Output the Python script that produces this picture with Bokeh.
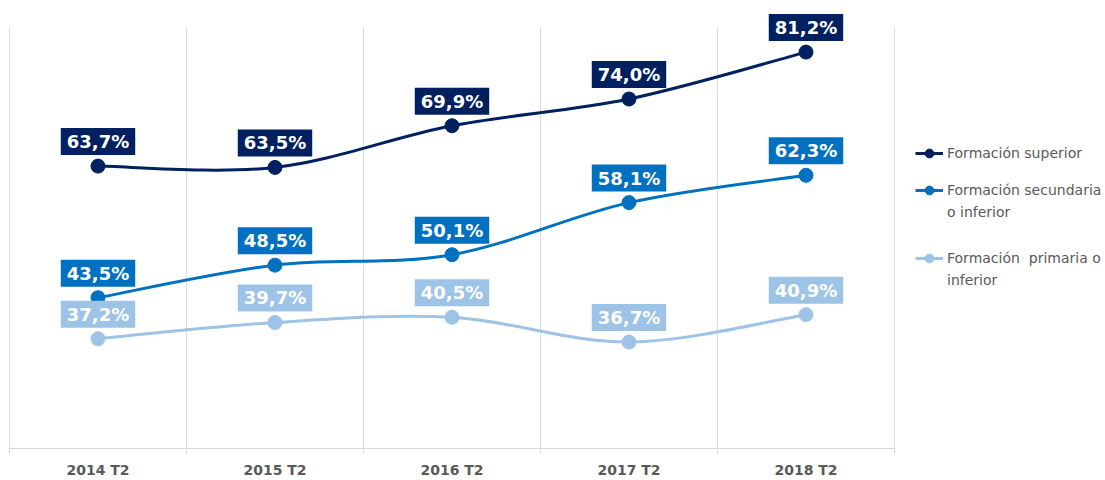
from bokeh.plotting import figure
from bokeh.models import (ColumnDataSource, Range1d, FixedTicker, Legend, LegendItem)
from bokeh.core.properties import value
from bokeh.embed import file_html
from bokeh.resources import INLINE

# ---- data ----
categories = ["2014 T2", "2015 T2", "2016 T2", "2017 T2", "2018 T2"]
superior = [63.7, 63.5, 69.9, 74.0, 81.2]
secundaria = [43.5, 48.5, 50.1, 58.1, 62.3]
primaria = [37.2, 39.7, 40.5, 36.7, 40.9]
series_names = [["Formación superior"],
                ["Formación secundaria", "o inferior"],
                ["Formación  primaria o", "inferior"]]
series_colors = ["#002060", "#0070C0", "#9DC3E6"]
series_values = [superior, secundaria, primaria]

Y_MIN, Y_MAX = 20, 85

xs = list(range(len(categories)))
boundaries = [i - 0.5 for i in range(len(categories) + 1)]

# frame spans the whole page width; the category area occupies x in [-0.5, 4.5]
p = figure(width=1105, height=480, output_backend="svg", toolbar_location=None,
           x_range=Range1d(-0.5508, 5.6921), y_range=Range1d(20.36, 89.12),
           y_axis_location=None, min_border_left=0, min_border_right=0,
           min_border_top=0, min_border_bottom=28)
p.outline_line_color = None
p.background_fill_color = "white"
p.border_fill_color = "white"

# axis
p.xaxis.ticker = FixedTicker(ticks=xs, minor_ticks=boundaries)
p.xaxis.bounds = (boundaries[0], boundaries[-1])
p.xaxis.major_label_overrides = {i: c for i, c in enumerate(categories)}
p.xaxis.major_tick_line_color = None
p.xaxis.major_tick_out = 0
p.xaxis.major_tick_in = 0
p.xaxis.minor_tick_line_color = "#d9d9d9"
p.xaxis.minor_tick_out = 5
p.xaxis.minor_tick_in = 0
p.xaxis.axis_line_color = "#d9d9d9"
p.xaxis.major_label_standoff = 8
p.xaxis.major_label_text_font = "DejaVu Sans"
p.xaxis.major_label_text_font_style = "bold"
p.xaxis.major_label_text_font_size = "14px"
p.xaxis.major_label_text_color = "#595959"

p.xgrid.visible = False
p.ygrid.visible = False

# category separators (vertical grid lines)
p.segment(x0=boundaries, y0=[Y_MIN] * len(boundaries), x1=boundaries,
          y1=[Y_MAX] * len(boundaries), line_color="#dddddd", line_width=1)


def bezier_segments(xv, yv):
    n = len(xv)
    d = dict(x0=[], y0=[], x1=[], y1=[], cx0=[], cy0=[], cx1=[], cy1=[])
    for i in range(n - 1):
        im1 = max(i - 1, 0)
        ip2 = min(i + 2, n - 1)
        d["x0"].append(xv[i]); d["y0"].append(yv[i])
        d["x1"].append(xv[i + 1]); d["y1"].append(yv[i + 1])
        d["cx0"].append(xv[i] + (xv[i + 1] - xv[im1]) / 6.0)
        d["cy0"].append(yv[i] + (yv[i + 1] - yv[im1]) / 6.0)
        d["cx1"].append(xv[i + 1] - (xv[ip2] - xv[i]) / 6.0)
        d["cy1"].append(yv[i + 1] - (yv[ip2] - yv[i]) / 6.0)
    return d


blank = p.scatter(x=[], y=[], fill_alpha=0, line_alpha=0)

legend_items = []
for names, color, vals in zip(series_names, series_colors, series_values):
    bsrc = ColumnDataSource(bezier_segments(xs, vals))
    br = p.bezier(x0="x0", y0="y0", x1="x1", y1="y1", cx0="cx0", cy0="cy0",
                  cx1="cx1", cy1="cy1", source=bsrc, line_color=color, line_width=3)
    sr = p.scatter(x=xs, y=vals, size=14, fill_color=color, line_color=color)
    its = [LegendItem(label=names[0], renderers=[br, sr])]
    for extra in names[1:]:
        its.append(LegendItem(label=extra, renderers=[blank]))
    legend_items.append(its)

for color, vals in zip(series_colors, series_values):
    lsrc = ColumnDataSource(dict(x=xs, y=vals,
                                 t=[("%.1f" % v).replace(".", ",") + "%" for v in vals]))
    p.text(x="x", y="y", text="t", source=lsrc, anchor="bottom_center",
           text_align="center", text_baseline="middle", y_offset=-11,
           text_color="white", text_font=value("DejaVu Sans"), text_font_style="bold",
           text_font_size="18px", background_fill_color=color,
           padding=dict(left=6, right=6, top=3, bottom=3))

legend_locs = [(915, 284), (915, 225), (915, 157)]
for its, loc in zip(legend_items, legend_locs):
    lg = Legend(items=its, location=loc, orientation="vertical")
    lg.margin = 0
    lg.padding = 0
    lg.spacing = 0
    lg.glyph_width = 28
    lg.glyph_height = 22
    lg.label_standoff = 4
    lg.label_height = 22
    lg.label_text_font = "DejaVu Sans"
    lg.label_text_font_size = "14px"
    lg.label_text_color = "#595959"
    lg.border_line_color = None
    lg.background_fill_alpha = 0
    p.add_layout(lg, "center")

open("out.html", "w").write(file_html(p, INLINE))
